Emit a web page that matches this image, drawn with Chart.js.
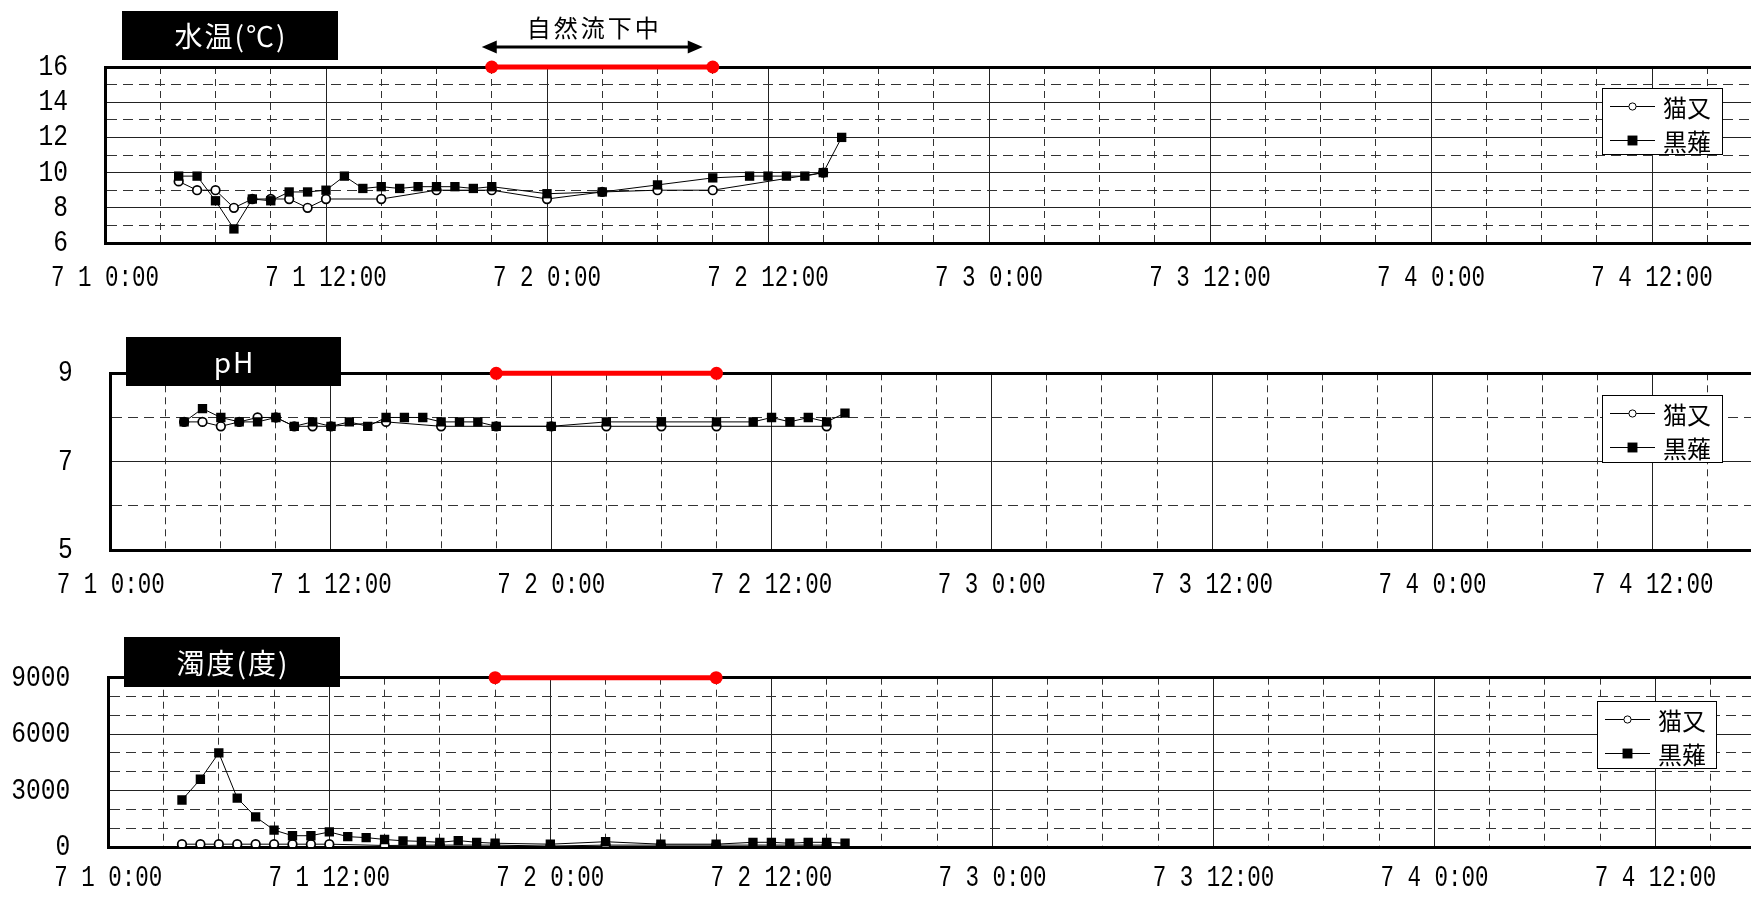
<!DOCTYPE html>
<html><head><meta charset="utf-8">
<script src="https://cdn.jsdelivr.net/npm/chart.js@4.4.0/dist/chart.umd.min.js"></script>
<style>
html,body{margin:0;padding:0;background:#fff;overflow:hidden;width:1751px;height:903px;}
#wrap{position:relative;width:1751px;height:903px;overflow:hidden;background:#fff;}
canvas{position:absolute;left:0;}
</style></head><body><div id="wrap">
<canvas id="c1" width="1890" height="300" style="top:0px;width:1890px;height:300px"></canvas>
<canvas id="c2" width="1890" height="310" style="top:300px;width:1890px;height:310px"></canvas>
<canvas id="c3" width="1890" height="293" style="top:610px;width:1890px;height:293px"></canvas>
</div>
<script>
// ---- data (hours since 7/1 0:00) ----
const seriesNames = ['猫又', '黒薙'];
const nekomataTimes = [4,5,6,7,8,9,10,11,12,15,18,21,24,27,30,33,39];
const kuronaTimes = [4,5,6,7,8,9,10,11,12,13,14,15,16,17,18,19,20,21,24,27,30,33,35,36,37,38,39,40];

const tempNekomata = [9.5,9.0,9.0,8.0,8.5,8.5,8.5,8.0,8.5,8.5,9.0,9.0,8.5,8.9,9.0,9.0,10.0];
const tempKurona = [9.8,9.8,8.4,6.8,8.5,8.4,8.9,8.9,9.0,9.8,9.1,9.2,9.1,9.2,9.2,9.2,9.1,9.2,8.8,8.9,9.3,9.7,9.8,9.8,9.8,9.8,10.0,12.0];

const phNekomata = [7.9,7.9,7.8,7.9,8.0,8.0,7.8,7.8,7.8,7.9,7.8,7.8,7.8,7.8,7.8,7.8,7.8];
const phKurona = [7.9,8.2,8.0,7.9,7.9,8.0,7.8,7.9,7.8,7.9,7.8,8.0,8.0,8.0,7.9,7.9,7.9,7.8,7.8,7.9,7.9,7.9,7.9,8.0,7.9,8.0,7.9,8.1];

const turbNekomata = [150,150,150,150,150,150,150,150,150,80,100,100,50,100,100,100,100];
const turbKurona = [2500,3600,5000,2600,1600,900,600,600,800,550,500,400,330,300,250,340,250,200,150,280,150,150,250,250,200,250,250,200];

const flowStart = 21, flowEnd = 33;       // 自然流下中 period
const flowLabel = '自然流下中';
const xMin = 0, xMax = 96, xStep = 3;
const chartTitles = ['水温(℃)', 'pH', '濁度(度)'];

// ---- narrow tick font: condense text horizontally (Excel-like narrow gothic digits) ----
const NARROW_FACTORS = { XNarrowA: 0.75, XNarrowB: 0.82 };
const _fillText = CanvasRenderingContext2D.prototype.fillText;
CanvasRenderingContext2D.prototype.fillText = function (t, x, y, mw) {
  const f = String(this.font);
  for (const k in NARROW_FACTORS) {
    if (f.indexOf(k) >= 0 && mw === undefined) {
      const w = this.measureText(t).width;
      return _fillText.call(this, t, x, y, Math.max(1, w * NARROW_FACTORS[k]));
    }
  }
  return mw === undefined ? _fillText.call(this, t, x, y) : _fillText.call(this, t, x, y, mw);
};

function xLabel(v){
  if (v % 12 !== 0 || v >= xMax) return '';
  const day = 1 + Math.floor(v / 24);
  const h = v % 24;
  return '7 ' + day + ' ' + h + ':00';
}
const CJK = '"Noto Sans CJK JP", "Noto Sans", sans-serif';
const XFONT = 'XNarrowA, "Liberation Mono", "DejaVu Sans Mono", monospace';
const YFONT = 'XNarrowB, "Liberation Mono", "DejaVu Sans Mono", monospace';

const boxLegend = {
  id: 'boxLegend',
  afterDraw(chart, args, o) {
    const ctx = chart.ctx;
    ctx.save();
    ctx.fillStyle = '#fff';
    ctx.fillRect(o.x, o.y, o.w, o.h);
    ctx.strokeStyle = '#000'; ctx.lineWidth = 1;
    ctx.strokeRect(o.x + 0.5, o.y + 0.5, o.w, o.h);
    const items = chart.data.datasets.filter(d => d.inLegend);
    items.forEach((d, i) => {
      const cy = o.y + 18.5 + i * 34;
      ctx.beginPath(); ctx.moveTo(o.x + 8, cy); ctx.lineTo(o.x + 53, cy);
      ctx.strokeStyle = '#000'; ctx.lineWidth = 1; ctx.stroke();
      ctx.fillStyle = d.pointBackgroundColor; ctx.strokeStyle = d.pointBorderColor;
      Chart.helpers.drawPoint(ctx, {
        pointStyle: d.pointStyle, radius: d.pointStyle === 'rect' ? 7 : 3.6,
        borderWidth: d.pointBorderWidth, rotation: 0
      }, o.x + 30.5, cy);
      ctx.fillStyle = '#000';
      ctx.font = '24px ' + CJK; ctx.textBaseline = 'middle'; ctx.textAlign = 'left';
      ctx.fillText(d.label, o.x + 61, cy + 1);
    });
    ctx.restore();
  }
};

const titleBox = {
  id: 'titleBox',
  afterDraw(chart, args, o) {
    const ctx = chart.ctx;
    ctx.save();
    ctx.fillStyle = '#000';
    ctx.fillRect(o.x, o.y, o.w, o.h);
    ctx.fillStyle = '#fff';
    ctx.font = '28px ' + CJK; ctx.textAlign = 'center'; ctx.textBaseline = 'middle';
    ctx.letterSpacing = '2px';
    ctx.fillText(o.text, o.x + o.w / 2 + 1, o.y + o.h / 2 + 1);
    ctx.restore();
  }
};

const flowArrow = {
  id: 'flowArrow',
  afterDraw(chart, args, o) {
    if (!o.show) return;
    const ctx = chart.ctx, xs = chart.scales.x;
    const x1 = xs.getPixelForValue(flowStart) - 10, x2 = xs.getPixelForValue(flowEnd) - 10;
    const y = o.y;
    ctx.save();
    ctx.strokeStyle = '#000'; ctx.fillStyle = '#000'; ctx.lineWidth = 3;
    ctx.beginPath(); ctx.moveTo(x1 + 12, y); ctx.lineTo(x2 - 12, y); ctx.stroke();
    ctx.beginPath(); ctx.moveTo(x1, y); ctx.lineTo(x1 + 15, y - 6.5); ctx.lineTo(x1 + 15, y + 6.5); ctx.closePath(); ctx.fill();
    ctx.beginPath(); ctx.moveTo(x2, y); ctx.lineTo(x2 - 15, y - 6.5); ctx.lineTo(x2 - 15, y + 6.5); ctx.closePath(); ctx.fill();
    ctx.font = '24px ' + CJK; ctx.textAlign = 'center'; ctx.textBaseline = 'middle';
    ctx.letterSpacing = '3px';
    ctx.fillText(flowLabel, (x1 + x2) / 2 + 2, o.textY);
    ctx.restore();
  }
};

function makeChart(id, o) {
  const canvas = document.getElementById(id);
  const W = canvas.width, H = canvas.height;
  const right = W - (o.left + (xMax - xMin) * o.pxh);
  return new Chart(canvas, {
    type: 'line',
    data: { datasets: [
      { label: seriesNames[0], inLegend: true,
        data: nekomataTimes.map((t, i) => ({ x: t, y: o.neko[i] })),
        borderColor: '#000', borderWidth: 1, pointStyle: 'circle', pointRadius: 4.3,
        pointBackgroundColor: '#fff', pointBorderColor: '#000', pointBorderWidth: 1.7, order: 2 },
      { label: seriesNames[1], inLegend: true,
        data: kuronaTimes.map((t, i) => ({ x: t, y: o.kuro[i] })),
        borderColor: '#000', borderWidth: 1, pointStyle: 'rect', pointRadius: 6.6,
        pointBackgroundColor: '#000', pointBorderColor: '#000', pointBorderWidth: 0, order: 1 },
      { label: flowLabel, inLegend: false,
        data: [{ x: flowStart, y: o.max }, { x: flowEnd, y: o.max }],
        borderColor: '#ff0000', borderWidth: 5, pointStyle: 'circle', pointRadius: 6.5,
        pointBackgroundColor: '#ff0000', pointBorderColor: '#ff0000', pointBorderWidth: 0,
        clip: false, order: 0 }
    ]},
    options: {
      responsive: false, animation: false, devicePixelRatio: 1,
      events: [],
      layout: { padding: { top: o.top, left: 0, right: right, bottom: 0 } },
      plugins: {
        legend: { display: false }, tooltip: { enabled: false },
        boxLegend: o.legend, titleBox: o.title, flowArrow: o.arrow || { show: false }
      },
      scales: {
        x: {
          type: 'linear', min: xMin, max: xMax,
          afterFit: s => { s.height = H - o.bottom; },
          ticks: { stepSize: xStep, autoSkip: false, maxRotation: 0, minRotation: 0,
                   padding: o.xpad, color: '#000', font: { family: XFONT, size: 30 },
                   callback: v => xLabel(v) },
          grid: { drawTicks: false, color: c => (c.tick && c.tick.value % 12 === 0) ? '#222' : '#333', lineWidth: 1 },
          border: { display: true, color: '#000', width: 3,
                    dash: c => (c.tick && c.tick.value % 12 !== 0) ? [7, 5] : [] }
        },
        y: {
          min: o.min, max: o.max,
          afterFit: s => { s.width = o.left; },
          ticks: { stepSize: o.step, autoSkip: false, padding: o.ypad, color: '#000',
                   font: { family: YFONT, size: 30 },
                   callback: v => o.isMajor(v) ? String(v) : '' },
          grid: { drawTicks: false,
                  color: c => (c.tick && (c.tick.value === o.max)) ? '#000' : (c.tick && o.isMajor(c.tick.value) ? '#222' : '#333'),
                  lineWidth: c => (c.tick && c.tick.value === o.max) ? 3 : 1 },
          border: { display: true, color: '#000', width: 3,
                    dash: c => (c.tick && !o.isMajor(c.tick.value)) ? [10, 6] : [] }
        }
      }
    },
    plugins: [boxLegend, titleBox, flowArrow]
  });
}

makeChart('c1', {
  neko: tempNekomata, kuro: tempKurona, min: 6, max: 16, step: 1,
  isMajor: v => Math.round(v) % 2 === 0,
  left: 105, pxh: 18.44, top: 67, bottom: 243, xpad: 17, ypad: 37,
  legend: { x: 1602, y: 88, w: 120, h: 66 },
  title: { text: chartTitles[0], x: 122, y: 11, w: 216, h: 49 },
  arrow: { show: true, y: 47, textY: 28 }
});
makeChart('c2', {
  neko: phNekomata, kuro: phKurona, min: 5, max: 9, step: 1,
  isMajor: v => (Math.round(v) - 5) % 2 === 0,
  left: 110.7, pxh: 18.42, top: 73.3, bottom: 250, xpad: 17, ypad: 38,
  legend: { x: 1602, y: 95, w: 120, h: 67 },
  title: { text: chartTitles[1], x: 126, y: 37, w: 215, h: 49 }
});
makeChart('c3', {
  neko: turbNekomata, kuro: turbKurona, min: 0, max: 9000, step: 1000,
  isMajor: v => Math.round(v) % 3000 === 0,
  left: 108.3, pxh: 18.42, top: 67.7, bottom: 246.7, xpad: 13.5, ypad: 38,
  legend: { x: 1597, y: 91, w: 119, h: 67 },
  title: { text: chartTitles[2], x: 124, y: 27, w: 216, h: 50 }
});
</script>
</body></html>
